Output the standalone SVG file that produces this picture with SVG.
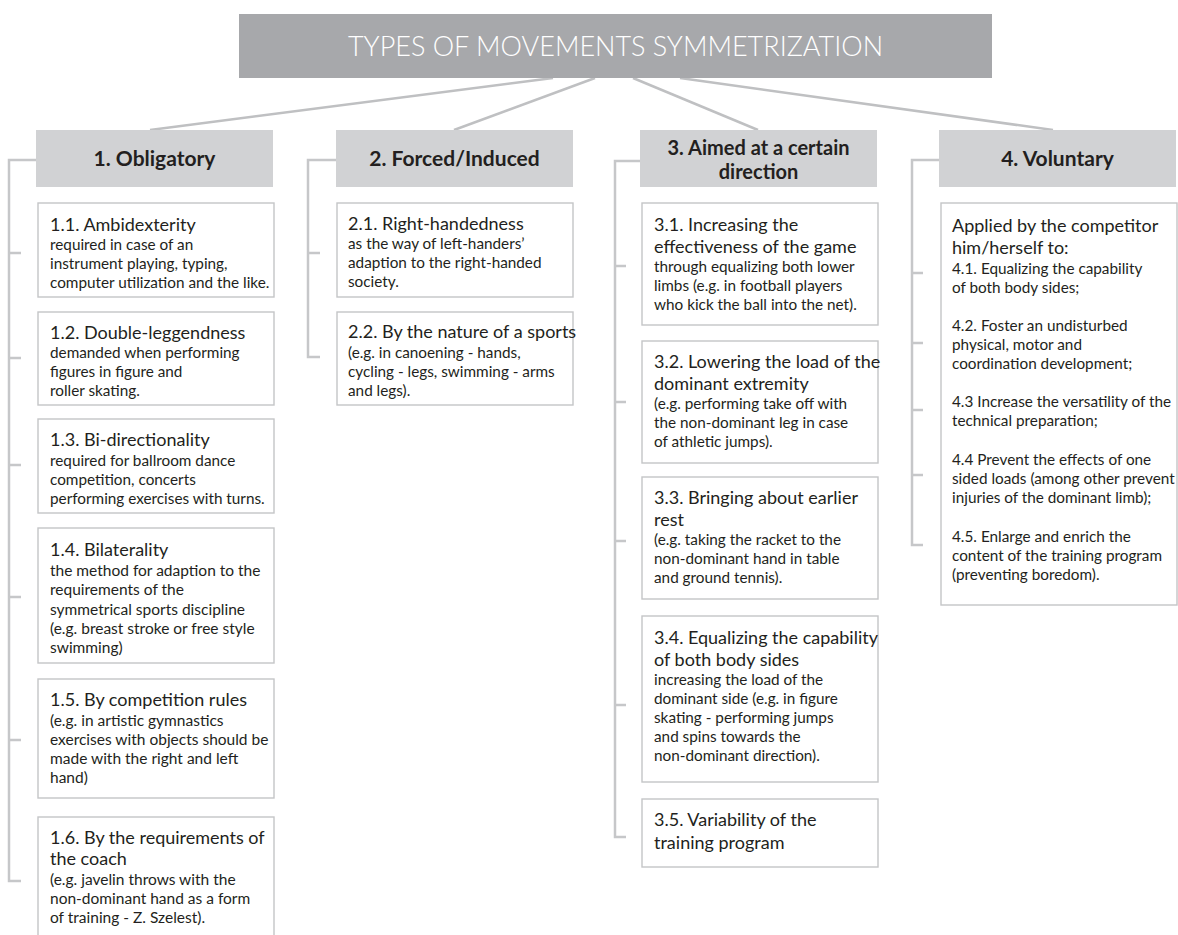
<svg xmlns="http://www.w3.org/2000/svg" width="1178" height="935" viewBox="0 0 1178 935">
<style>
.bg{fill:#ffffff}
.title{fill:#a7a8ab}
.head{fill:#d1d2d4}
.box{fill:#ffffff;stroke:#c4c5c7;stroke-width:1.4}
.ttl{font-family:Lato,"Liberation Sans",sans-serif;font-weight:300;font-size:27px;fill:#ffffff}
.hd{font-family:Lato,"Liberation Sans",sans-serif;font-weight:700;font-size:21px;fill:#231f20}
.hd2{font-family:Lato,"Liberation Sans",sans-serif;font-weight:700;font-size:20px;fill:#231f20}
.t{font-family:Lato,"Liberation Sans",sans-serif;font-size:18px;fill:#231f20}
.d{font-family:Lato,"Liberation Sans",sans-serif;font-size:15.3px;fill:#231f20}
.d2{font-family:Lato,"Liberation Sans",sans-serif;font-size:15.5px;fill:#231f20}
.c{fill:none;stroke:#bfc0c2;stroke-width:2.5}
.k{fill:none;stroke:#c6c7c9;stroke-width:2.5}
</style>
<rect class="bg" x="0" y="0" width="1178" height="935"/>
<g id="connectors">
<line class="c" x1="553" y1="78" x2="150" y2="130"/>
<line class="c" x1="595" y1="78" x2="454" y2="130"/>
<line class="c" x1="633" y1="78" x2="758" y2="130"/>
<line class="c" x1="680" y1="78" x2="1053" y2="130"/>
<path class="k" d="M36 160 H9 V881 H21 M9 253 H21 M9 358 H21 M9 465 H21 M9 597 H21 M9 740 H21"/>
<path class="k" d="M336 160 H308 V357 H320 M308 253 H320"/>
<path class="k" d="M640 161 H615 V837 H626 M615 266 H626 M615 402 H626 M615 541 H626 M615 705 H626"/>
<path class="k" d="M939 160 H912 V545 H923 M912 273 H923 M912 343 H923 M912 410 H923 M912 475 H923"/>
</g>
<g id="title">
<rect class="title" x="239" y="14" width="753" height="64"/>
<text class="ttl" x="615.5" y="56" text-anchor="middle">TYPES OF MOVEMENTS SYMMETRIZATION</text>
</g>
<g id="h1">
<rect class="head" x="36" y="130" width="237" height="57"/>
<text class="hd" x="154.5" y="166" text-anchor="middle">1. Obligatory</text>
</g>
<g id="h2">
<rect class="head" x="336" y="130" width="237" height="57"/>
<text class="hd" x="454.5" y="166" text-anchor="middle">2. Forced/Induced</text>
</g>
<g id="h3">
<rect class="head" x="640" y="130" width="237" height="57"/>
<text class="hd2" x="758.5" y="155" text-anchor="middle">3. Aimed at a certain</text>
<text class="hd2" x="758.5" y="179" text-anchor="middle">direction</text>
</g>
<g id="h4">
<rect class="head" x="939" y="130" width="237" height="57"/>
<text class="hd" x="1057.5" y="166" text-anchor="middle">4. Voluntary</text>
</g>
<g id="n11">
<rect class="box" x="38" y="203" width="236" height="94"/>
<text class="t" x="50" y="231">1.1. Ambidexterity</text>
<text class="d" x="50" y="250">required in case of an</text>
<text class="d" x="50" y="269">instrument playing, typing,</text>
<text class="d" x="50" y="288">computer utilization and the like.</text>
</g>
<g id="n12">
<rect class="box" x="38" y="312" width="236" height="93"/>
<text class="t" x="50" y="339">1.2. Double-leggendness</text>
<text class="d" x="50" y="358">demanded when performing</text>
<text class="d" x="50" y="377">figures in figure and</text>
<text class="d" x="50" y="396">roller skating.</text>
</g>
<g id="n13">
<rect class="box" x="38" y="419" width="236" height="94"/>
<text class="t" x="50" y="446">1.3. Bi-directionality</text>
<text class="d" x="50" y="466">required for ballroom dance</text>
<text class="d" x="50" y="485">competition, concerts</text>
<text class="d" x="50" y="504">performing exercises with turns.</text>
</g>
<g id="n14">
<rect class="box" x="38" y="528" width="236" height="135"/>
<text class="t" x="50" y="556">1.4. Bilaterality</text>
<text class="d2" x="50" y="576">the method for adaption to the</text>
<text class="d2" x="50" y="595">requirements of the</text>
<text class="d2" x="50" y="615">symmetrical sports discipline</text>
<text class="d2" x="50" y="634">(e.g. breast stroke or free style</text>
<text class="d2" x="50" y="653">swimming)</text>
</g>
<g id="n15">
<rect class="box" x="38" y="679" width="236" height="119"/>
<text class="t" x="50" y="706">1.5. By competition rules</text>
<text class="d2" x="50" y="726">(e.g. in artistic gymnastics</text>
<text class="d2" x="50" y="745">exercises with objects should be</text>
<text class="d2" x="50" y="764">made with the right and left</text>
<text class="d2" x="50" y="783">hand)</text>
</g>
<g id="n16">
<rect class="box" x="38" y="817" width="236" height="130"/>
<text class="t" x="50" y="844">1.6. By the requirements of</text>
<text class="t" x="50" y="865">the coach</text>
<text class="d2" x="50" y="885">(e.g. javelin throws with the</text>
<text class="d2" x="50" y="904">non-dominant hand as a form</text>
<text class="d2" x="50" y="923">of training - Z. Szelest).</text>
</g>
<g id="n21">
<rect class="box" x="337" y="203" width="236" height="94"/>
<text class="t" x="348" y="230">2.1. Right-handedness</text>
<text class="d" x="348" y="249">as the way of left-handers’</text>
<text class="d" x="348" y="268">adaption to the right-handed</text>
<text class="d" x="348" y="287">society.</text>
</g>
<g id="n22">
<rect class="box" x="337" y="312" width="236" height="93"/>
<text class="t" x="348" y="338">2.2. By the nature of a sports</text>
<text class="d" x="348" y="358">(e.g. in canoening - hands,</text>
<text class="d" x="348" y="377">cycling - legs, swimming - arms</text>
<text class="d" x="348" y="396">and legs).</text>
</g>
<g id="n31">
<rect class="box" x="642" y="203" width="236" height="122"/>
<text class="t" x="654" y="231">3.1. Increasing the</text>
<text class="t" x="654" y="253">effectiveness of the game</text>
<text class="d" x="654" y="272">through equalizing both lower</text>
<text class="d" x="654" y="291">limbs (e.g. in football players</text>
<text class="d" x="654" y="310">who kick the ball into the net).</text>
</g>
<g id="n32">
<rect class="box" x="642" y="341" width="236" height="122"/>
<text class="t" x="654" y="368">3.2. Lowering the load of the</text>
<text class="t" x="654" y="390">dominant extremity</text>
<text class="d" x="654" y="409">(e.g. performing take off with</text>
<text class="d" x="654" y="428">the non-dominant leg in case</text>
<text class="d" x="654" y="447">of athletic jumps).</text>
</g>
<g id="n33">
<rect class="box" x="642" y="477" width="236" height="122"/>
<text class="t" x="654" y="504">3.3. Bringing about earlier</text>
<text class="t" x="654" y="526">rest</text>
<text class="d" x="654" y="545">(e.g. taking the racket to the</text>
<text class="d" x="654" y="564">non-dominant hand in table</text>
<text class="d" x="654" y="583">and ground tennis).</text>
</g>
<g id="n34">
<rect class="box" x="642" y="616" width="236" height="166"/>
<text class="t" x="654" y="644">3.4. Equalizing the capability</text>
<text class="t" x="654" y="666">of both body sides</text>
<text class="d" x="654" y="685">increasing the load of the</text>
<text class="d" x="654" y="704">dominant side (e.g. in figure</text>
<text class="d" x="654" y="723">skating - performing jumps</text>
<text class="d" x="654" y="742">and spins towards the</text>
<text class="d" x="654" y="761">non-dominant direction).</text>
</g>
<g id="n35">
<rect class="box" x="642" y="799" width="236" height="68"/>
<text class="t" x="654" y="826">3.5. Variability of the</text>
<text class="t" x="654" y="849">training program</text>
</g>
<g id="n4">
<rect class="box" x="941" y="203" width="236" height="402"/>
<text class="t" x="952" y="232">Applied by the competitor</text>
<text class="t" x="952" y="254">him/herself to:</text>
<text class="d" x="952" y="274">4.1. Equalizing the capability</text>
<text class="d" x="952" y="293">of both body sides;</text>
<text class="d" x="952" y="331">4.2. Foster an undisturbed</text>
<text class="d" x="952" y="350">physical, motor and</text>
<text class="d" x="952" y="369">coordination development;</text>
<text class="d" x="952" y="407">4.3 Increase the versatility of the</text>
<text class="d" x="952" y="426">technical preparation;</text>
<text class="d" x="952" y="465">4.4 Prevent the effects of one</text>
<text class="d" x="952" y="484">sided loads (among other prevent</text>
<text class="d" x="952" y="503">injuries of the dominant limb);</text>
<text class="d" x="952" y="542">4.5. Enlarge and enrich the</text>
<text class="d" x="952" y="561">content of the training program</text>
<text class="d" x="952" y="580">(preventing boredom).</text>
</g>
</svg>
